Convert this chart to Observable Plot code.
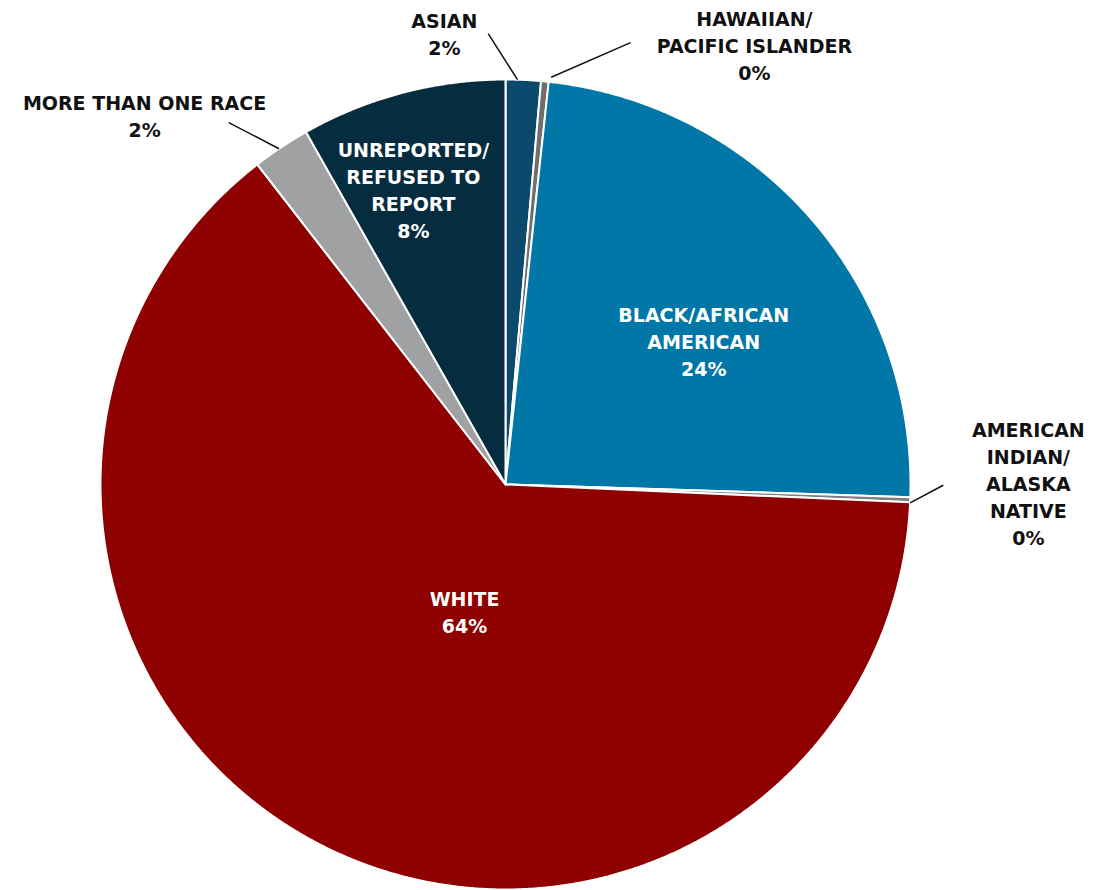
<!DOCTYPE html>
<html>
<head>
<meta charset="utf-8">
<script src="https://cdn.jsdelivr.net/npm/d3@7"></script>
<script src="https://cdn.jsdelivr.net/npm/@observablehq/plot@0.6"></script>
<style>
  html, body { margin: 0; padding: 0; background: #fff; }
  #chart svg { display: block; }
</style>
</head>
<body>
<div id="chart"></div>
<script>
// ---- data ----
const categories = ["Asian", "Hawaiian/Pacific Islander", "Black/African American",
  "American Indian/Alaska Native", "White", "More than one race", "Unreported/Refused to report"];
const shares = [1.4, 0.3, 23.8, 0.2, 63.8, 2.3, 8.2];           // estimated share (%)
const pctLabels = ["2%", "0%", "24%", "0%", "64%", "2%", "8%"];  // printed labels
const labelNames = ["ASIAN", "HAWAIIAN/\nPACIFIC ISLANDER", "BLACK/AFRICAN\nAMERICAN",
  "AMERICAN\nINDIAN/\nALASKA\nNATIVE", "WHITE", "MORE THAN ONE RACE", "UNREPORTED/\nREFUSED TO\nREPORT"];

// ---- styles / layout ----
const colors = ["#0b4a6c", "#6e6e6e", "#0077a6", "#7f7f7f", "#8f0000", "#a0a1a3", "#062c40"];
const textColors = ["#111", "#111", "#fff", "#111", "#fff", "#111", "#fff"];
// label placement in polar form: angle (deg, clockwise from 12 o'clock), radius (pie radii)
const labelAngle = [352.3, 29.5, 54, 89.8, 198, 315.7, 342.7];
const labelRadius = [1.126, 1.248, 0.605, 1.291, 0.327, 1.276, 0.765];
// leader lines (only outside labels): polar start and end points
const leaderStartAngle = [357.8, 15.8, null, 90.1, null, 322.6, null];
const leaderStartRadius = [1.114, 1.134, null, 1.081, null, 1.125, null];
const leaderEndAngle = [1.7, 6.4, null, 92.6, null, 326.0, null];
const leaderEndRadius = [1.0, 1.012, null, 1.0, null, 1.0, null];

const W = 1104, H = 890, CX = 505, CY = 484, R = 405;

const arcs = d3.pie().sort(null).value(d => d)(shares);
const polar = (deg, r) => [r * Math.sin(deg * Math.PI / 180), r * Math.cos(deg * Math.PI / 180)];

const slicePts = [];
arcs.forEach((a, i) => {
  const a0 = a.startAngle * 180 / Math.PI, a1 = a.endAngle * 180 / Math.PI;
  slicePts.push({cat: categories[i], x: 0, y: 0});
  const n = Math.max(2, Math.ceil((a1 - a0) / 0.25));
  for (let k = 0; k <= n; k++) {
    const [x, y] = polar(a0 + (a1 - a0) * k / n, 1);
    slicePts.push({cat: categories[i], x, y});
  }
});

const labels = categories.map((c, i) => {
  const [x, y] = polar(labelAngle[i], labelRadius[i]);
  return {x, y, text: labelNames[i] + "\n" + pctLabels[i], color: textColors[i]};
});

const leaders = [];
categories.forEach((c, i) => {
  if (leaderStartAngle[i] == null) return;
  const [x1, y1] = polar(leaderStartAngle[i], leaderStartRadius[i]);
  const [x2, y2] = polar(leaderEndAngle[i], leaderEndRadius[i]);
  leaders.push({x1, y1, x2, y2});
});

const chart = Plot.plot({
  width: W, height: H,
  margin: 0,
  x: {domain: [-CX / R, (W - CX) / R], range: [0, W], axis: null},
  y: {domain: [-(H - CY) / R, CY / R], range: [H, 0], axis: null},
  color: {domain: categories, range: colors},
  marks: [
    Plot.line(slicePts, {x: "x", y: "y", z: "cat", fill: "cat", stroke: "#fff",
      strokeWidth: 2, curve: "linear-closed", strokeLinejoin: "round"}),
    Plot.link(leaders, {x1: "x1", y1: "y1", x2: "x2", y2: "y2", stroke: "#111", strokeWidth: 1.5}),
    Plot.text(labels, {x: "x", y: "y", text: "text", fill: "color",
      fontSize: 19, fontWeight: "bold", fontFamily: "DejaVu Sans", lineHeight: 1.42,
      textAnchor: "middle"})
  ]
});
document.getElementById("chart").appendChild(chart);
</script>
</body>
</html>
